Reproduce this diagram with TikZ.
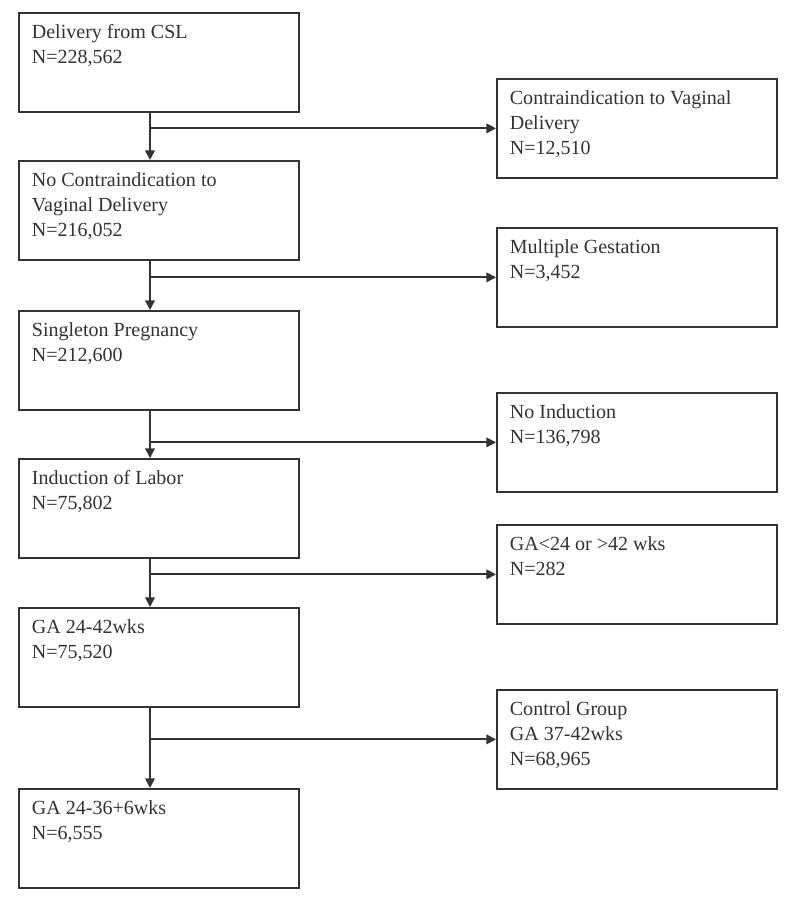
\documentclass[tikz,border=0pt]{standalone}
\usepackage{fontspec}
\setmainfont{Liberation Serif}
\usetikzlibrary{arrows.meta}
\definecolor{linegray}{gray}{0.2}
\NewDocumentCommand{\boxtext}{m}{\parbox[t][1.65cm][t]{5.08cm}{\strut #1}}
\tikzset{
    flowbox/.style={draw=linegray, line width=1pt, rectangle, anchor=north west,
        inner xsep=0.26cm, inner ysep=0.165cm, text=linegray,
        font=\fontsize{11.4}{14.2}\selectfont},
    flowarrow/.style={draw=linegray, line width=1pt, -{Triangle[length=5.5pt, width=5.5pt]}}
}

\begin{document}
\begin{tikzpicture}[x=0.02cm, y=-0.02cm]
        \useasboundingbox (0,0) rectangle (800,902);
        \def\lx{18}
        \def\rx{496}
        \coordinate (spine) at (150,0);

        % main column
        \node[flowbox] (deliv) at (\lx,12) {\boxtext{Delivery from CSL\\N=228,562}};
        \node[flowbox] (nocontra) at (\lx,160) {\boxtext{No Contraindication to\\Vaginal Delivery\\N=216,052}};
        \node[flowbox] (single) at (\lx,310) {\boxtext{Singleton Pregnancy\\N=212,600}};
        \node[flowbox] (induct) at (\lx,458) {\boxtext{Induction of Labor\\N=75,802}};
        \node[flowbox] (ga) at (\lx,607) {\boxtext{GA 24-42wks\\N=75,520}};
        \node[flowbox] (preterm) at (\lx,788) {\boxtext{GA 24-36+6wks\\N=6,555}};

        % excluded column
        \node[flowbox] (contra) at (\rx,78) {\boxtext{Contraindication to Vaginal\\Delivery\\N=12,510}};
        \node[flowbox] (multi) at (\rx,227) {\boxtext{Multiple Gestation\\N=3,452}};
        \node[flowbox] (noinduct) at (\rx,392) {\boxtext{No Induction\\N=136,798}};
        \node[flowbox] (gaout) at (\rx,524) {\boxtext{GA<24 or >42 wks\\N=282}};
        \node[flowbox] (control) at (\rx,689) {\boxtext{Control Group\\GA 37-42wks\\N=68,965}};

        % down arrows
        \draw[flowarrow] (deliv.south -| spine) -- (nocontra.north -| spine);
        \draw[flowarrow] (nocontra.south -| spine) -- (single.north -| spine);
        \draw[flowarrow] (single.south -| spine) -- (induct.north -| spine);
        \draw[flowarrow] (induct.south -| spine) -- (ga.north -| spine);
        \draw[flowarrow] (ga.south -| spine) -- (preterm.north -| spine);

        % side arrows
        \draw[flowarrow] (spine |- contra.west) -- (contra.west);
        \draw[flowarrow] (spine |- multi.west) -- (multi.west);
        \draw[flowarrow] (spine |- noinduct.west) -- (noinduct.west);
        \draw[flowarrow] (spine |- gaout.west) -- (gaout.west);
        \draw[flowarrow] (spine |- control.west) -- (control.west);
    \end{tikzpicture}
\end{document}
